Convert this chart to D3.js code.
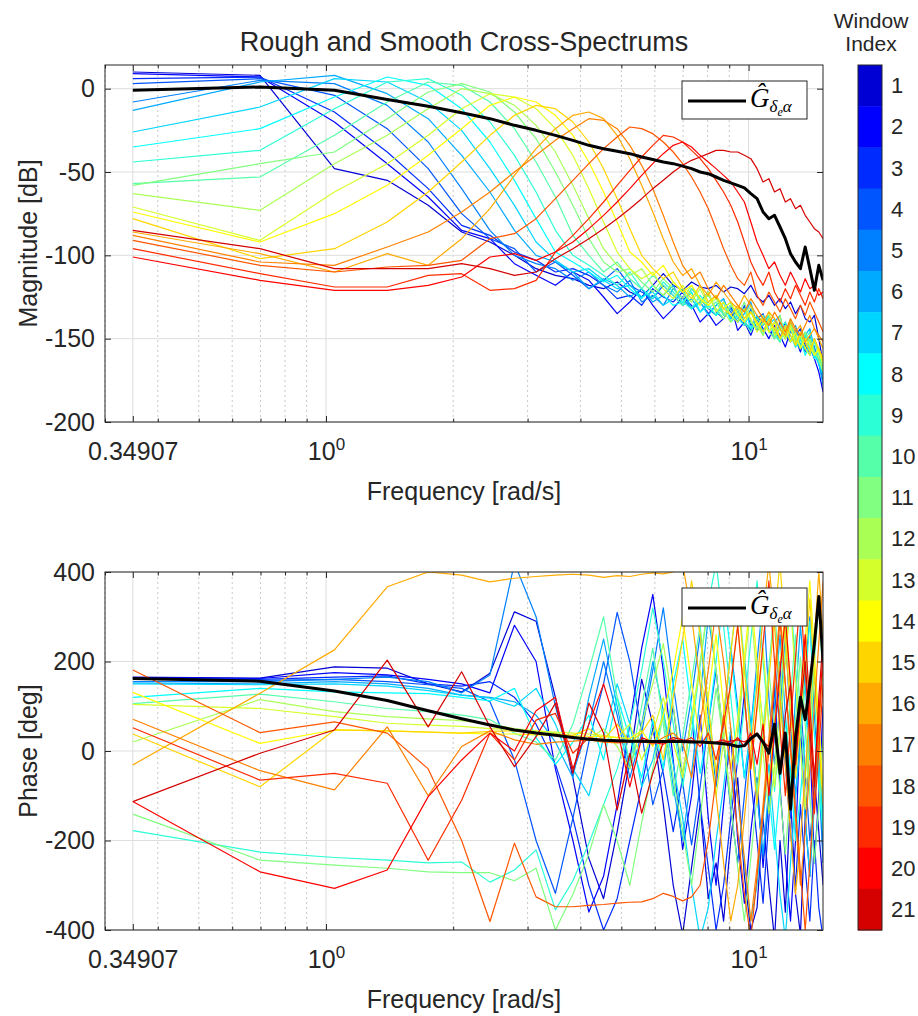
<!DOCTYPE html>
<html>
<head>
<meta charset="utf-8">
<script src="https://cdn.jsdelivr.net/npm/d3@7"></script>
<style>
  body { margin: 0; background: #fff; }
  text { font-family: "Liberation Sans", Arial, Helvetica, sans-serif; fill: #262626; }
</style>
</head>
<body>
<div id="chart"></div>
<script>
// frequency points (rad/s), k * 0.34907
const freqs = [0.3491, 0.6981, 1.0472, 1.3963, 1.7453, 2.0944, 2.4435, 2.7925, 3.1416, 3.4907,
  3.8397, 4.1888, 4.5379, 4.8869, 5.2360, 5.5851, 5.9341, 6.2832, 6.6323, 6.9813,
  7.3304, 7.6794, 8.0285, 8.3776, 8.7266, 9.0757, 9.4248, 9.7738, 10.1229, 10.4720,
  10.8210, 11.1701, 11.5192, 11.8682, 12.2173, 12.5664, 12.9154, 13.2645, 13.6136, 13.9626,
  14.3117, 14.6608, 15.0098];

// rough cross-spectrum magnitude [dB], one row per window (1..21)
const magRough = [
  [10, 8, -48, -55, -70, -86, -92, -100, -108, -112, -114, -118, -120, -116, -122, -125, -118, -111, -118, -121, -116, -119, -120, -118, -122, -119, -120, -123, -118, -125, -128, -124, -130, -126, -132, -128, -135, -130, -138, -140, -136, -150, -165],
  [9, 7, -20, -45, -65, -85, -90, -105, -112, -118, -110, -115, -125, -135, -128, -120, -130, -138, -132, -125, -130, -140, -135, -142, -138, -130, -145, -140, -148, -138, -144, -150, -142, -148, -155, -145, -150, -158, -148, -155, -162, -170, -182],
  [6, 7, -14, -38, -60, -82, -88, -98, -103, -110, -108, -112, -118, -126, -124, -130, -120, -125, -128, -122, -132, -128, -135, -130, -126, -138, -132, -140, -145, -136, -142, -138, -146, -150, -140, -152, -148, -144, -155, -150, -158, -162, -172],
  [3, 6, -4, -24, -48, -75, -90, -96, -110, -104, -112, -120, -115, -108, -118, -122, -126, -118, -124, -130, -120, -126, -132, -136, -128, -134, -140, -130, -142, -138, -135, -145, -150, -140, -148, -152, -145, -150, -158, -148, -155, -165, -175],
  [-8, 5, 3, -10, -32, -60, -85, -100, -105, -108, -115, -110, -118, -122, -115, -128, -124, -130, -120, -126, -132, -128, -122, -134, -138, -130, -136, -142, -132, -145, -140, -136, -148, -144, -150, -142, -155, -148, -152, -160, -150, -158, -168],
  [-13, 4, 8, -3, -18, -40, -62, -85, -100, -104, -110, -120, -114, -118, -125, -120, -128, -124, -118, -130, -126, -134, -128, -124, -136, -132, -140, -135, -128, -142, -138, -146, -140, -136, -150, -146, -142, -154, -148, -144, -156, -165, -178],
  [-26, -11, 6, 4, -8, -25, -48, -70, -92, -103, -110, -108, -115, -120, -118, -125, -122, -130, -126, -120, -132, -128, -136, -130, -126, -138, -134, -140, -144, -136, -146, -142, -138, -150, -146, -140, -152, -156, -148, -154, -160, -165, -172],
  [-35, -24, -5, 7, 2, -12, -32, -55, -78, -98, -104, -110, -116, -112, -120, -126, -118, -124, -130, -128, -122, -134, -130, -136, -128, -140, -136, -132, -144, -140, -148, -136, -146, -152, -142, -148, -155, -150, -160, -154, -162, -158, -168],
  [-44, -37, -12, 4, 6, -4, -20, -40, -62, -85, -100, -106, -112, -118, -110, -120, -126, -116, -122, -128, -132, -124, -130, -136, -132, -128, -138, -142, -134, -140, -146, -138, -150, -144, -140, -152, -148, -156, -150, -146, -158, -164, -170],
  [-57, -53, -28, -8, 4, 2, -8, -24, -44, -65, -88, -100, -110, -104, -114, -120, -112, -118, -124, -130, -120, -126, -132, -128, -136, -130, -134, -140, -146, -138, -142, -136, -148, -152, -144, -140, -154, -150, -146, -158, -152, -160, -168],
  [-58, -45, -38, -18, -2, 3, -2, -14, -30, -50, -70, -90, -104, -110, -108, -116, -122, -114, -120, -126, -118, -128, -124, -132, -138, -130, -136, -128, -140, -144, -136, -146, -150, -142, -148, -138, -150, -155, -146, -152, -160, -156, -165],
  [-63, -73, -45, -28, -12, 0, -3, -10, -22, -38, -58, -78, -96, -106, -112, -108, -118, -124, -116, -122, -128, -120, -130, -126, -134, -140, -132, -138, -130, -142, -148, -140, -146, -136, -150, -144, -152, -148, -156, -150, -158, -162, -170],
  [-71, -91, -62, -45, -28, -12, -3, -5, -12, -24, -40, -60, -80, -98, -108, -114, -110, -120, -126, -118, -124, -130, -122, -134, -128, -136, -140, -132, -138, -146, -140, -134, -148, -144, -150, -142, -154, -148, -156, -160, -150, -158, -166],
  [-74, -92, -75, -58, -40, -24, -10, -5, -8, -16, -28, -44, -62, -80, -98, -104, -112, -106, -116, -122, -118, -126, -130, -124, -132, -128, -136, -140, -134, -142, -138, -146, -140, -150, -144, -152, -146, -156, -150, -154, -160, -156, -164],
  [-78, -102, -96, -80, -62, -44, -28, -16, -10, -12, -20, -32, -48, -66, -84, -100, -108, -114, -110, -120, -126, -118, -128, -124, -132, -136, -130, -138, -134, -140, -146, -138, -144, -150, -142, -148, -154, -146, -152, -158, -150, -156, -162],
  [-86, -99, -110, -99, -106, -90, -72, -52, -36, -24, -16, -14, -18, -28, -42, -58, -74, -90, -104, -112, -108, -118, -124, -116, -122, -128, -132, -124, -130, -136, -140, -134, -138, -144, -148, -140, -146, -142, -152, -148, -144, -150, -156],
  [-88, -104, -106, -95, -86, -74, -62, -50, -40, -31, -24, -18, -19, -24, -34, -46, -60, -76, -92, -106, -114, -110, -120, -126, -118, -124, -130, -134, -126, -132, -138, -142, -134, -140, -146, -138, -144, -148, -142, -136, -144, -148, -152],
  [-91, -106, -110, -107, -106, -103, -90, -87, -78, -66, -55, -45, -36, -29, -23, -24, -27, -32, -38, -45, -53, -62, -72, -84, -96, -106, -114, -118, -110, -124, -130, -122, -128, -134, -126, -132, -138, -130, -136, -128, -134, -140, -146],
  [-96, -111, -119, -119, -112, -111, -121, -120, -115, -98, -88, -78, -68, -58, -49, -41, -34, -28, -29, -32, -37, -42, -48, -55, -62, -70, -80, -92, -104, -112, -118, -110, -122, -128, -120, -126, -118, -124, -130, -122, -128, -120, -126],
  [-101, -115, -121, -121, -118, -113, -101, -99, -103, -98, -92, -84, -76, -68, -60, -52, -45, -39, -34, -32, -35, -40, -44, -48, -52, -56, -62, -68, -80, -92, -100, -108, -104, -112, -118, -110, -116, -122, -114, -120, -118, -124, -122],
  [-85, -96, -108, -108, -108, -105, -108, -112, -110, -102, -96, -90, -84, -78, -72, -66, -60, -55, -50, -46, -43, -41, -39, -37, -37, -38, -38, -40, -42, -48, -56, -54, -62, -60, -68, -66, -72, -70, -76, -80, -84, -86, -90]
];

// smooth cross-spectrum magnitude [dB]
const magSmooth = [-1, 1, -1, -6.5, -10.5, -14.5, -18, -22, -25, -28, -31, -34, -36, -37.5, -39, -41, -42.5, -44, -45, -46.5,
  -48, -50, -51, -53, -55, -56.5, -58, -59.5, -63, -66, -74, -78, -76, -83, -90, -99, -104, -108, -95, -108, -121, -106, -115];

// rough cross-spectrum phase [deg], one row per window (1..21)
const phaseRough = [
  [165, 163, 188, 185, 150, 132, 174, 311, 290, 120, -60, -240, -330, -180, -20, 160, 60, -120, -300, -410, -260, -120, -330, -250, -380, -200, -60, -280, -400, -350, -150, -300, -420, -200, -360, -100, -320, -410, -150, -280, -60, -180, -300],
  [164, 162, 175, 170, 160, 150, 130, 281, 200, -40, -200, -360, -280, -120, 60, 230, 350, 180, -20, -220, -100, 80, -150, -300, -120, 40, -200, -340, -180, -60, -260, -100, 150, -80, -240, -380, -200, 60, -150, 30, -250, -100, 100],
  [163, 160, 165, 168, 150, 145, 155, 120, 60, -30, -150, -300, -400, -330, -200, -80, 50, -50, -180, -60, 80, -120, -260, -400, -300, -150, -20, 130, -60, -200, -340, -150, 50, 200, -30, -180, -300, -120, -260, -380, -200, -350, -420],
  [162, 158, 160, 155, 148, 140, 110, -20, -200, -318, -150, 20, 150, 310, 200, 40, -120, -40, 100, -70, -210, -80, 60, 180, 20, -130, -250, -100, 50, -90, -240, -110, 40, 160, 10, -150, -40, 120, -50, -200, -90, 50, -250],
  [155, 155, 160, 165, 155, 130, 170, 420, 300, 100, -50, 60, 200, 80, -60, 40, 180, 320, 150, 0, 120, 260, 80, -80, 60, 230, 100, -60, 50, 200, 340, 120, -30, 100, 260, 60, -100, 30, 180, 300, 80, -60, -250],
  [152, 150, 155, 150, 140, 125, 120, 110, 80, 20, -60, 120, 250, 100, -40, 60, 200, 90, -80, -200, -50, 120, 300, 180, 20, -120, 40, 210, 60, -100, -230, -80, 100, 260, 80, -60, 120, 280, 150, -20, 180, 40, -200],
  [150, 148, 150, 145, 135, 125, 118, 100, 140, 60, -40, -100, 30, 150, 60, -80, -20, 90, -30, -150, -300, -420, -350, -200, -80, 50, -100, -250, -380, -300, -150, -30, -180, -320, -420, -250, -100, 20, -150, -280, -120, 40, -160],
  [120, 140, 132, 130, 128, 120, 112, 140, 30, -30, 20, 80, -20, 120, 30, -60, 70, -40, 150, 250, 90, -50, 60, 200, 350, 220, 80, -60, 40, 180, 60, -90, -220, -80, 70, -50, -200, -100, 30, 150, 40, -80, -180],
  [-178, -226, -238, -244, -250, -248, -293, -266, -221, -355, -290, -206, -120, -40, 60, 180, 320, 200, 60, -80, 40, 190, 330, 420, 280, 120, -30, 100, 250, 380, 200, 60, -90, 50, 220, 360, 180, 30, 150, 290, 120, -40, -180],
  [106, 127, 110, 95, 88, 80, 70, 40, 20, -20, 60, 180, 300, 120, -30, 100, 230, 60, -100, 30, 160, 280, 100, -50, 80, 220, 360, 200, 40, -90, 50, 190, 320, 150, -10, 120, 260, 80, -60, 70, 200, 330, 150],
  [-141, -244, -255, -262, -270, -272, -272, -290, -262, -400, -320, -230, -120, -200, -300, -160, -40, 80, -60, -180, -300, -150, 0, 140, 20, -120, -260, -380, -240, -100, 40, 180, 50, -90, -230, -80, 70, 210, 60, -100, -250, -120, 30],
  [20, 115, 88, 77, 72, 68, 60, 50, 45, 40, 30, 25, 50, 10, -40, 60, 150, 240, 100, -50, 70, 200, 330, 180, 30, -110, 40, 190, 320, 160, 0, -140, -40, 120, 280, 140, -20, 110, 250, 90, -70, 60, 200],
  [104, 95, 77, 62, 58, 55, 50, 48, 45, 42, 40, 38, 35, 30, 60, -20, 40, 120, 20, -60, 80, 180, 50, -100, 20, 150, 280, 120, -40, 90, 230, 60, -80, 50, 200, 330, 160, 10, -130, 30, 180, 60, -90],
  [131, 17, 47, 45, 42, 40, 38, 38, 36, 35, 34, 33, 32, 30, 28, 45, 10, 80, 180, 300, 150, 20, 120, 260, 100, -40, 70, 210, 350, 200, 50, -80, 60, 190, 320, 140, -10, 110, 250, 380, 220, 60, -100],
  [38, -80, 47, 45, 42, 40, 44, 45, 40, 38, 35, 50, 25, 60, 20, 40, 80, -20, 120, 250, 380, 260, 100, -50, 80, 220, 350, 180, 30, -120, 20, 160, 300, 420, 250, 90, -60, 70, 210, 340, 170, 20, -120],
  [-31, 129, 226, 367, 400, 393, 378, 386, 390, 393, 395, 393, 388, 392, 390, 395, 398, 396, 400, 420, 300, 150, 20, -100, -250, -380, -300, -150, 0, 150, 300, 420, 280, 120, -30, -180, -320, -200, -50, 100, 250, 400, 260],
  [71, -44, -87, 54, -100, 10, 45, 25, 15, 20, 22, 25, 20, 18, 20, 25, 15, 30, 40, 20, -60, 60, 180, 320, 200, 50, -100, -240, -380, -260, -120, 30, 170, 310, 150, 0, -150, -300, -180, -40, 100, 240, 380],
  [181, 41, 65, 40, -40, -200, -381, -206, -326, -348, -348, -345, -343, -340, -338, -337, -330, -318, -325, -335, -326, -300, -200, -60, 80, -40, -180, -320, -420, -280, -140, 0, 150, 290, 150, 10, -130, -270, -400, -250, -100, 50, 200],
  [52, -65, -50, -72, -244, -110, 40, -20, 69, 84, -5, 30, 25, 20, 22, 20, 18, 22, 25, 20, 30, 10, 40, -20, 60, 150, 280, 120, -40, 100, 240, 380, 200, 50, -100, 60, 210, 350, 180, 20, -140, 0, 150],
  [-113, -270, -307, -266, -102, -20, 40, 0, 90, 120, -40, 60, 150, 50, -80, 30, 20, 15, 25, 20, 22, 20, 18, 20, 25, 15, 30, 10, 40, -30, 60, -100, 50, 180, 300, 150, -20, 120, 260, 100, -60, 80, 220],
  [-113, -5, 47, 203, 54, 177, 54, -35, 32, 107, -50, 107, 40, -132, -5, -139, -50, 20, 30, 25, 22, 20, 20, 18, 20, 22, 25, 20, 30, 40, 20, 10, 60, -40, 80, 150, -30, 100, 200, 50, -80, 120, 250]
];

// smooth cross-spectrum phase [deg]
const phaseSmooth = [162, 156, 134, 113, 90, 72, 58, 47, 40, 35, 30, 26, 24, 23, 22, 22, 21, 21, 21, 21,
  20, 20, 19, 18, 16, 14, 10, 12, 28, 38, 20, -5, 60, -50, 40, -130, 30, 120, 70, 150, 240, 345, 200];

const windowLabels = [1, 2, 3, 4, 5, 6, 7, 8, 9, 10, 11, 12, 13, 14, 15, 16, 17, 18, 19, 20, 21];
const xMajorTicks = [0.34907, 1, 10];
const xMinorTicks = [0.3, 0.4, 0.5, 0.6, 0.7, 0.8, 0.9, 2, 3, 4, 5, 6, 7, 8, 9];
const magTicks = [-200, -150, -100, -50, 0];
const phaseTicks = [-400, -200, 0, 200, 400];

// MATLAB jet colormap with m entries
function jet(m) {
    const n = Math.ceil(m / 4);
    const u = [];
    for (let i = 1; i <= n; i++) u.push(i / n);
    for (let i = 0; i < n - 1; i++) u.push(1);
    for (let i = n; i >= 1; i--) u.push(i / n);
    const g0 = Math.ceil(n / 2) - (m % 4 === 1 ? 1 : 0);
    const J = d3.range(m).map(() => [0, 0, 0]);
    u.forEach((v, j) => {
        const g = g0 + j + 1, r = g + n, b = g - n;
        if (r >= 1 && r <= m) J[r - 1][0] = v;
        if (g >= 1 && g <= m) J[g - 1][1] = v;
        if (b >= 1 && b <= m) J[b - 1][2] = v;
    });
    return J.map(c => d3.rgb(c[0] * 255, c[1] * 255, c[2] * 255).formatHex());
}
const colors = jet(windowLabels.length);

const width = 918, height = 1016;
const left = 105, right = 823;
const axisColor = "#262626";
const fontSize = 25;

const svg = d3.select("#chart")
    .append("svg")
    .attr("width", width)
    .attr("height", height)
    .style("background", "#fff");

const x = d3.scaleLog().domain([0.3, 15]).range([left, right]);

function legendBox(g, top) {
    g.append("rect")
        .attr("x", 682).attr("y", top)
        .attr("width", 125).attr("height", 38)
        .style("fill", "#fff")
        .style("stroke", axisColor)
        .style("stroke-width", 1);
    g.append("line")
        .attr("x1", 688).attr("x2", 746)
        .attr("y1", top + 20).attr("y2", top + 20)
        .style("stroke", "#000")
        .style("stroke-width", 3);
    const t = g.append("text")
        .attr("x", 750).attr("y", top + 26)
        .style("font-family", '"Liberation Serif", "DejaVu Serif", serif')
        .style("fill", "#000");
    t.append("tspan").attr("font-size", 27).attr("font-style", "italic").text("\u011C");
    t.append("tspan").attr("font-size", 17).attr("font-style", "italic").attr("dy", 5).text("\u03B4");
    t.append("tspan").attr("font-size", 12).attr("font-style", "italic").attr("dy", 4).text("e");
    t.append("tspan").attr("font-size", 17).attr("font-style", "italic").attr("dy", -4).text("\u03B1");
}

function drawPanel(opt) {
    const y = d3.scaleLinear().domain(opt.yDomain).range([opt.bottom, opt.top]);
    const h = opt.bottom - opt.top;
    const g = svg.append("g");

    // grid
    g.append("g")
        .selectAll("line")
        .data(xMinorTicks)
        .enter()
        .append("line")
        .attr("x1", d => x(d)).attr("x2", d => x(d))
        .attr("y1", opt.top).attr("y2", opt.bottom)
        .style("stroke", "#c8c8c8")
        .style("stroke-width", 1)
        .style("stroke-dasharray", "2,3");
    g.append("g")
        .selectAll("line")
        .data(xMajorTicks)
        .enter()
        .append("line")
        .attr("x1", d => x(d)).attr("x2", d => x(d))
        .attr("y1", opt.top).attr("y2", opt.bottom)
        .style("stroke", "#dedede")
        .style("stroke-width", 1);
    g.append("g")
        .selectAll("line")
        .data(opt.yTicks)
        .enter()
        .append("line")
        .attr("x1", left).attr("x2", right)
        .attr("y1", d => y(d)).attr("y2", d => y(d))
        .style("stroke", "#dedede")
        .style("stroke-width", 1);

    // clipped lines
    svg.append("clipPath")
        .attr("id", opt.clipId)
        .append("rect")
        .attr("x", left).attr("y", opt.top)
        .attr("width", right - left).attr("height", h);

    const line = d3.line()
        .x(d => x(d[0]))
        .y(d => y(d[1]));

    const plot = g.append("g").attr("clip-path", "url(#" + opt.clipId + ")");
    plot.selectAll(".rough")
        .data(opt.rough)
        .enter()
        .append("path")
        .attr("class", "rough")
        .attr("d", row => line(freqs.map((f, i) => [f, row[i]])))
        .style("fill", "none")
        .style("stroke", (row, i) => colors[i])
        .style("stroke-width", 1.2)
        .style("stroke-linejoin", "round");
    plot.append("path")
        .attr("d", line(freqs.map((f, i) => [f, opt.smooth[i]])))
        .style("fill", "none")
        .style("stroke", "#000")
        .style("stroke-width", 3)
        .style("stroke-linejoin", "round");

    // axes (ticks inward, box on)
    const styleAxis = sel => {
        sel.select(".domain").remove();
        sel.selectAll(".tick line").style("stroke", axisColor);
        sel.selectAll("text")
            .style("font-size", fontSize + "px")
            .style("fill", axisColor);
    };
    g.append("g")
        .attr("transform", "translate(0," + opt.bottom + ")")
        .call(d3.axisBottom(x).tickValues(xMajorTicks).tickSize(-6).tickPadding(20))
        .call(styleAxis)
        .selectAll(".tick text")
        .each(function (d) {
            const t = d3.select(this);
            if (d === 1 || d === 10) {
                t.text("");
                t.append("tspan").text("10");
                t.append("tspan")
                    .attr("dy", "-0.55em")
                    .style("font-size", "17px")
                    .text(d === 1 ? "0" : "1");
            } else {
                t.text("0.34907");
            }
        });
    g.append("g")
        .attr("transform", "translate(0," + opt.bottom + ")")
        .call(d3.axisBottom(x).tickValues(xMinorTicks).tickSize(-3.5).tickFormat(""))
        .call(styleAxis);
    g.append("g")
        .attr("transform", "translate(0," + opt.top + ")")
        .call(d3.axisTop(x).tickValues(xMajorTicks).tickSize(-6).tickFormat(""))
        .call(styleAxis);
    g.append("g")
        .attr("transform", "translate(0," + opt.top + ")")
        .call(d3.axisTop(x).tickValues(xMinorTicks).tickSize(-3.5).tickFormat(""))
        .call(styleAxis);
    g.append("g")
        .attr("transform", "translate(" + left + ",0)")
        .call(d3.axisLeft(y).tickValues(opt.yTicks).tickSize(-6).tickPadding(10)
            .tickFormat(d => String(d)))
        .call(styleAxis);
    g.append("g")
        .attr("transform", "translate(" + right + ",0)")
        .call(d3.axisRight(y).tickValues(opt.yTicks).tickSize(-6).tickFormat(""))
        .call(styleAxis);

    g.append("rect")
        .attr("x", left).attr("y", opt.top)
        .attr("width", right - left).attr("height", h)
        .style("fill", "none")
        .style("stroke", axisColor)
        .style("stroke-width", 1);

    // labels
    g.append("text")
        .attr("x", (left + right) / 2)
        .attr("y", opt.bottom + 78)
        .attr("text-anchor", "middle")
        .style("font-size", fontSize + "px")
        .text("Frequency [rad/s]");
    g.append("text")
        .attr("transform", "translate(37," + (opt.top + h / 2) + ") rotate(-90)")
        .attr("text-anchor", "middle")
        .style("font-size", fontSize + "px")
        .text(opt.ylabel);

    legendBox(g, opt.legendTop);
}

// title
svg.append("text")
    .attr("x", (left + right) / 2)
    .attr("y", 51)
    .attr("text-anchor", "middle")
    .style("font-size", "27px")
    .text("Rough and Smooth Cross-Spectrums");

drawPanel({
    top: 65, bottom: 422,
    yDomain: [-200, 14.2],
    yTicks: magTicks,
    rough: magRough,
    smooth: magSmooth,
    ylabel: "Magnitude [dB]",
    clipId: "clipMag",
    legendTop: 81
});

drawPanel({
    top: 572, bottom: 930,
    yDomain: [-400, 400],
    yTicks: phaseTicks,
    rough: phaseRough,
    smooth: phaseSmooth,
    ylabel: "Phase [deg]",
    clipId: "clipPhase",
    legendTop: 588
});

// colorbar
const cbTop = 65, cbBottom = 930, cbLeft = 858, cbWidth = 24;
const cb = d3.scaleBand().domain(windowLabels).range([cbTop, cbBottom]);
const cbar = svg.append("g");
cbar.selectAll("rect")
    .data(windowLabels)
    .enter()
    .append("rect")
    .attr("x", cbLeft)
    .attr("y", d => cb(d))
    .attr("width", cbWidth)
    .attr("height", cb.bandwidth() + 0.5)
    .style("fill", (d, i) => colors[i]);
cbar.append("rect")
    .attr("x", cbLeft).attr("y", cbTop)
    .attr("width", cbWidth).attr("height", cbBottom - cbTop)
    .style("fill", "none")
    .style("stroke", axisColor)
    .style("stroke-width", 1);
cbar.selectAll(".cblabel")
    .data(windowLabels)
    .enter()
    .append("text")
    .attr("class", "cblabel")
    .attr("x", cbLeft + cbWidth + 9)
    .attr("y", d => cb(d) + cb.bandwidth() / 2)
    .attr("dy", "0.35em")
    .style("font-size", "22px")
    .text(d => d);
cbar.append("text")
    .attr("x", 871).attr("y", 28)
    .attr("text-anchor", "middle")
    .style("font-size", "21px")
    .text("Window");
cbar.append("text")
    .attr("x", 871).attr("y", 51)
    .attr("text-anchor", "middle")
    .style("font-size", "21px")
    .text("Index");
</script>
</body>
</html>
